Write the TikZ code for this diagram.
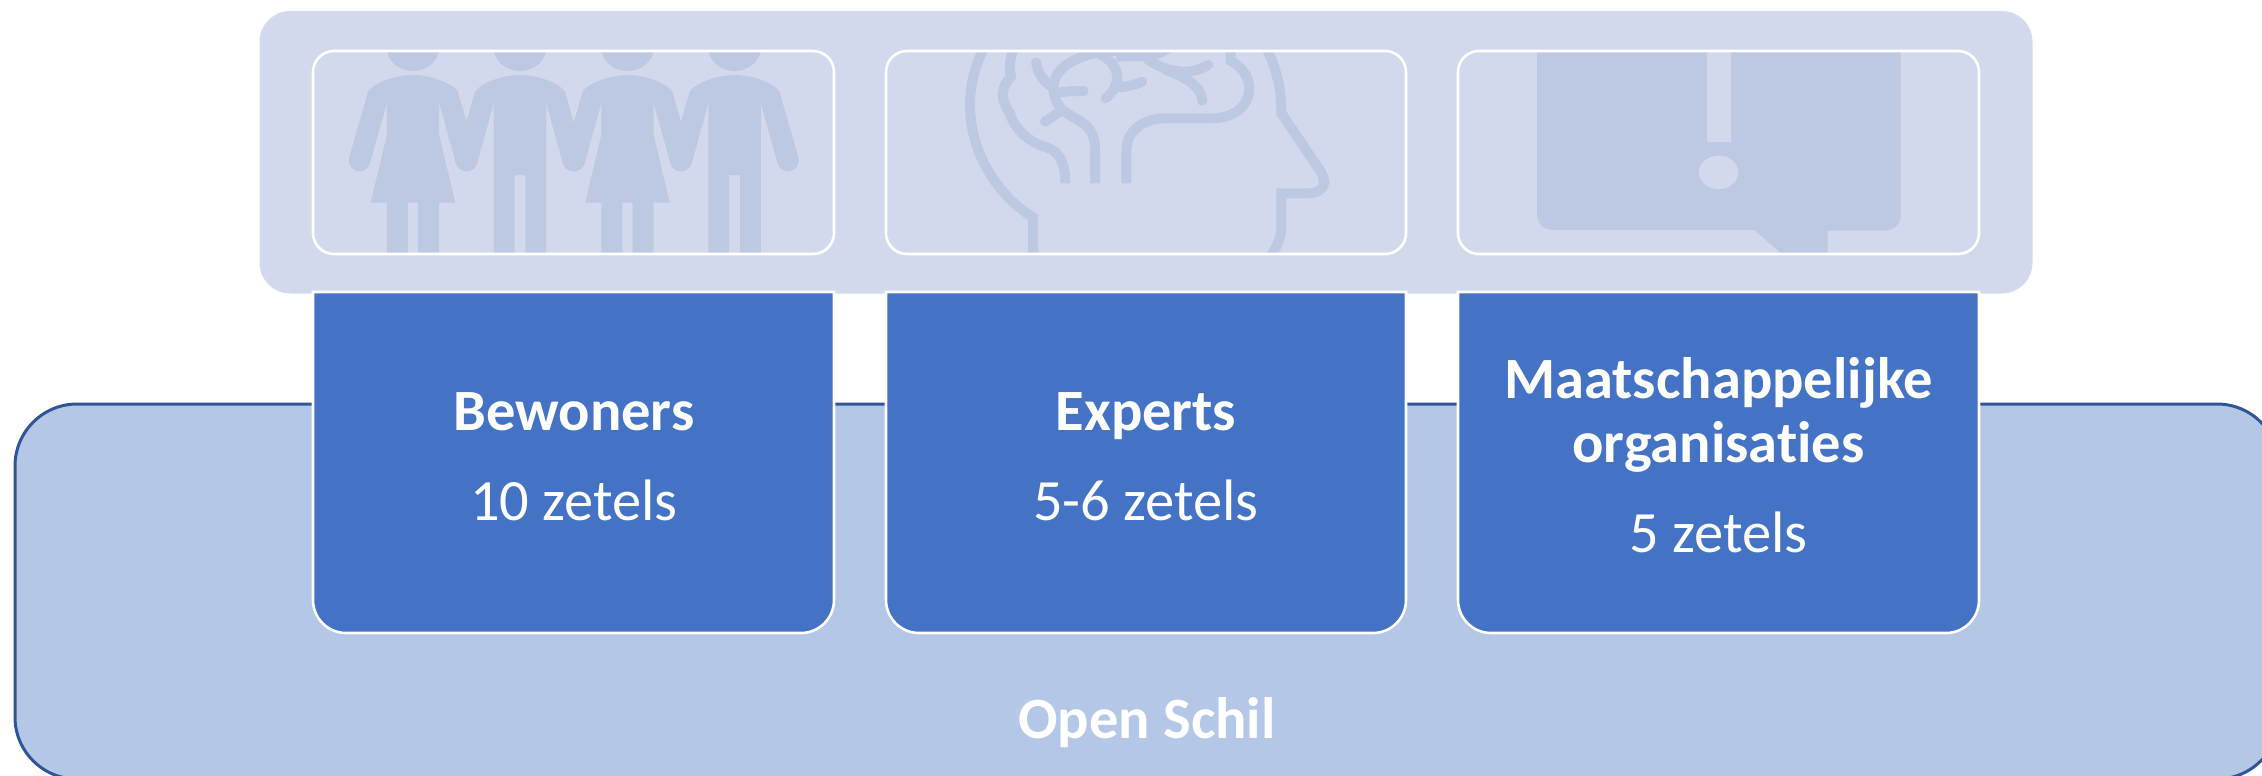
\documentclass[tikz,border=0pt]{standalone}
\usepackage{fontspec}
\setmainfont{Carlito}[Ligatures=NoCommon]
\definecolor{outerfill}{HTML}{B4C7E7}
\definecolor{outerline}{HTML}{2F5597}
\definecolor{panelfill}{HTML}{D2D9EC}
\definecolor{iconfill}{HTML}{BDC9E3}
\definecolor{bluefill}{HTML}{4472C4}
\tikzset{
  outerbox/.style={fill=outerfill,draw=outerline,line width=3pt,rounded corners=62pt},
  panelbox/.style={fill=panelfill,draw=panelfill!90!white,line width=1pt,rounded corners=30pt},
  innerbox/.style={draw=white,line width=2.6pt,rounded corners=21pt},
  bluebox/.style={fill=bluefill,draw=white,line width=2.6pt},
  headtext/.style={text=white,font=\bfseries\fontsize{58.5}{70}\selectfont,anchor=base,inner sep=0pt},
  seattext/.style={text=white,font=\fontsize{58.5}{70}\selectfont,anchor=base,inner sep=0pt},
  iconline/.style={draw=iconfill,line width=10pt,line cap=round,line join=round},
  iconlinebutt/.style={draw=iconfill,line width=10pt,line cap=butt,line join=miter},
  zoomcoordsA/.style={shift={(870pt,-30pt)},x=0.35714pt,y=-0.33333pt},
  zoomcoordsB/.style={shift={(1440pt,-30pt)},x=0.35714pt,y=-0.33333pt},
  personarms/.pic={
    \fill[iconfill] (0,47) ellipse [x radius=26.5pt,y radius=24pt];
    \fill[iconfill] (-53.4,160.5) circle [radius=10.8pt];
    \fill[iconfill] (53.4,160.5) circle [radius=10.8pt];
    \fill[iconfill]
      (-26.2,103) -- (-42.8,163) -- (-64,158) -- (-45,92)
      .. controls (-42,85) and (-20,75) .. (0,75)
      .. controls (20,75) and (42,85) .. (45,92)
      -- (64,158) -- (42.8,163) -- (26.2,103) -- cycle;
  },
  womanfig/.pic={
    \pic {personarms};
    \fill[iconfill] (-26.2,100) -- (-26.2,135) -- (-42.3,202.7) -- (-26.2,202.7) -- (-26.2,262)
      -- (-5.1,262) -- (-5.1,202.7) -- (5.1,202.7) -- (5.1,262) -- (26.2,262)
      -- (26.2,202.7) -- (42.3,202.7) -- (26.2,135) -- (26.2,100) -- cycle;
  },
  manfig/.pic={
    \pic {personarms};
    \fill[iconfill] (-26.2,100) -- (-26.2,262) -- (-5.4,262) -- (-5.4,175) -- (5.4,175)
      -- (5.4,262) -- (26.2,262) -- (26.2,100) -- cycle;
  },
}
\begin{document}
\begin{tikzpicture}[x=1pt,y=-1pt]
\useasboundingbox (0,0) rectangle (2262,776);
\clip (0,0) rectangle (2262,776);
% outer shell
\path[outerbox] (15,404) rectangle (2279,779);
% top panel
\path[panelbox] (260,11.5) rectangle (2032,293);
% people
\begin{scope}
  \clip[rounded corners=21pt] (313,51) rectangle (834,254);
  \pic at (413,0) {womanfig};
  \pic at (520,0) {manfig};
  \pic at (627.5,0) {womanfig};
  \pic at (734.6,0) {manfig};
\end{scope}
% head with brain
\begin{scope}
  \clip[rounded corners=21pt] (886,51) rectangle (1406,254);
  \begin{scope}[zoomcoordsA]
    \draw[iconlinebutt] (318,55) .. controls (290,120) and (280,170) .. (280,225)
      .. controls (280,370) and (360,500) .. (457,562) -- (457,690);
    \draw[iconlinebutt] (1110,55) .. controls (1140,120) and (1152,180) .. (1152,250)
      -- (1262,425) .. controls (1285,465) and (1262,490) .. (1228,490) -- (1152,490)
      -- (1152,590) .. controls (1152,620) and (1140,650) .. (1118,685);
    \draw[iconlinebutt] (402,55) .. controls (392,85) and (388,110) .. (395,140)
      .. controls (365,170) and (365,210) .. (392,250)
      .. controls (405,300) and (450,340) .. (495,352)
      .. controls (530,365) and (547,400) .. (547,460);
    \draw[iconlinebutt] (690,62) .. controls (610,65) and (500,100) .. (515,190)
      .. controls (520,225) and (540,245) .. (570,262)
      .. controls (610,285) and (630,305) .. (630,360) -- (630,460);
    \draw[iconline] (465,97) .. controls (470,130) and (485,155) .. (515,175);
    \draw[iconline] (525,190) .. controls (545,183) and (570,183) .. (598,183);
    \draw[iconline] (490,275) -- (535,243);
    \draw[iconline] (640,70) .. controls (700,100) and (710,160) .. (660,205);
    \draw[iconline] (695,172) .. controls (720,170) and (740,165) .. (762,155);
    \draw[iconlinebutt] (690,80) -- (770,78) .. controls (790,78) and (815,70) .. (835,55);
    \draw[iconline] (770,80) .. controls (800,110) and (840,125) .. (885,125)
      .. controls (905,125) and (925,118) .. (947,105);
    \draw[iconline] (830,120) .. controls (880,140) and (930,170) .. (930,212);
    \draw[iconlinebutt] (718,460) -- (718,360) .. controls (718,300) and (770,265) .. (825,265)
      -- (960,265) .. controls (1020,265) and (1062,225) .. (1062,175)
      .. controls (1062,140) and (1040,110) .. (1010,92) -- (1010,55);
  \end{scope}
\end{scope}
% speech bubble
\begin{scope}
  \clip[rounded corners=21pt] (1458,51) rectangle (1979,254);
  \begin{scope}[zoomcoordsB]
    \fill[iconfill] (272,40) -- (272,555) .. controls (272,585) and (295,600) .. (320,600)
      -- (880,600) -- (955,670) -- (955,700) -- (1085,700) -- (1085,602) -- (1240,602)
      .. controls (1270,602) and (1290,585) .. (1290,555) -- (1290,40) -- cycle;
    \fill[panelfill] (748,40) rectangle (815,337);
    \fill[panelfill] (780,427) ellipse [x radius=19.6pt,y radius=16.8pt];
  \end{scope}
\end{scope}
% inner outlines
\path[innerbox] (313,51) rectangle (834,254);
\path[innerbox] (886,51) rectangle (1406,254);
\path[innerbox] (1458,51) rectangle (1979,254);
% blue boxes
\path[bluebox] (313,292) -- (834,292) -- (834,600) .. controls (834,618.2) and (819.2,633) .. (801,633)
  -- (346,633) .. controls (327.8,633) and (313,618.2) .. (313,600) -- cycle;
\path[bluebox] (886,292) -- (1406,292) -- (1406,600) .. controls (1406,618.2) and (1391.2,633) .. (1373,633)
  -- (919,633) .. controls (900.8,633) and (886,618.2) .. (886,600) -- cycle;
\path[bluebox] (1458,292) -- (1979,292) -- (1979,600) .. controls (1979,618.2) and (1964.2,633) .. (1946,633)
  -- (1491,633) .. controls (1472.8,633) and (1458,618.2) .. (1458,600) -- cycle;
% texts
\node[headtext] (bew) at (574,430) {Bewoners};
\node[seattext] (bewz) at (574,520) {10 zetels};
\node[headtext] (exp) at (1146,430) {Experts};
\node[seattext] (expz) at (1146,520) {5-6 zetels};
\node[headtext] (maat) at (1718.5,398) {Maatschappelijke};
\node[headtext] (org) at (1718.5,462) {organisaties};
\node[seattext] (maatz) at (1718.5,552) {5 zetels};
\node[headtext] (open) at (1147,738) {Open Schil};
\end{tikzpicture}
\end{document}
